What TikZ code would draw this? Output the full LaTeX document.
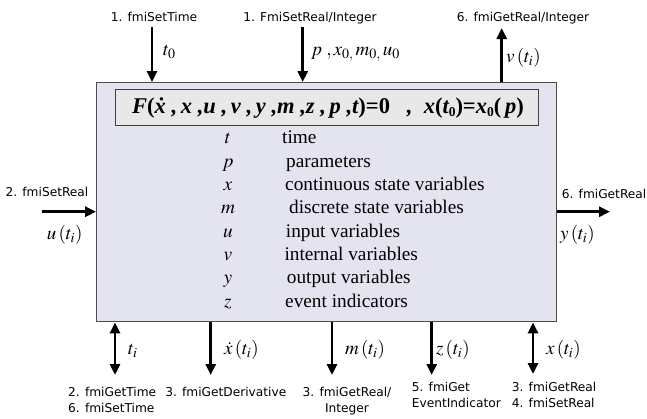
\documentclass[tikz,border=0pt]{standalone}
\usepackage{mathptmx}
\usepackage[no-math]{fontspec}
\setmainfont{Liberation Serif}
\newfontfamily\lblfont{DejaVu Sans}
\usetikzlibrary{arrows.meta}

\definecolor{boxfill}{RGB}{228,228,240}
\definecolor{eqfill}{RGB}{232,232,232}

\newcommand\upr[1]{{\upshape #1}}
\newcommand\zsub{\raisebox{-0.3ex}{\fontsize{13.5}{13.5}\selectfont\upshape 0}}

\tikzset{
  fmubox/.style={draw=black!70, line width=1.3pt, fill=boxfill,
    minimum width=460pt, minimum height=239pt, inner sep=0pt},
  eqbox/.style={draw=black!75, line width=1pt, fill=eqfill,
    minimum width=423pt, minimum height=36.7pt, inner sep=0pt},
  fmilbl/.style={font=\lblfont\fontsize{12.2}{14}\selectfont, inner sep=0pt},
  sigl/.style={font=\fontsize{19}{21}\selectfont, inner sep=0pt, anchor=mid west},
  varsym/.style={font=\fontsize{19.3}{23}\selectfont, inner sep=0pt, anchor=mid},
  vartxt/.style={font=\fontsize{19.3}{23}\selectfont, inner sep=0pt, anchor=mid west},
  sig/.style={line width=2.8pt, -{Triangle[length=11pt,width=10pt]}},
  bisig/.style={line width=2.8pt,
    {Triangle[length=11pt,width=10pt]}-{Triangle[length=11pt,width=10pt]}},
}

\begin{document}
\begin{tikzpicture}[x=1pt,y=-1pt]
  \useasboundingbox (0,0) rectangle (647,418);

  % FMU block and model equation
  \node[fmubox] (fmu) at (326.7,202.2) {};
  \node[eqbox] (eq) at (326.5,107.6) {};
  \node[inner sep=0pt] (eqtxt) at (328,107.6)
    {\fontsize{22.5}{25}\selectfont\bfseries\itshape
     F\upr{(}\.x\ ,\,x\ ,u\ ,\,v\ ,\,y\ ,m\ ,z\ ,\,p\ ,t\upr{)=0}\ \ \ ,\ \
     x\upr{(}t\zsub\upr{)=}x\zsub\upr{(}\,p\upr{)}};

  % list of variables
  \foreach \sym/\txt/\tx [count=\i] in {t/time/282, p/parameters/286,
      x/continuous state variables/285, m/discrete state variables/289,
      u/input variables/285.7, v/internal variables/284.3,
      y/output variables/286.7, z/event indicators/285}
  {
    \node[varsym] (sym\i) at (228,{141.7+23.3*(\i-1)}) {$\sym$};
    \node[vartxt] (txt\i) at (\tx,{141.7+23.3*(\i-1)}) {\txt};
  }

  % inputs from above
  \node[fmilbl, anchor=base] (setTime) at (154,21) {1. fmiSetTime};
  \node[fmilbl, anchor=base] (setRealP) at (310,21) {1. FmiSetReal/Integer};
  \node[fmilbl, anchor=base] (getRealV) at (523,21) {6. fmiGetReal/Integer};
  \coordinate (t0in) at (152,27);
  \coordinate (pin) at (302.7,27);
  \coordinate (vout) at (501.7,28);
  \draw[sig] (t0in) -- (t0in |- fmu.north);
  \draw[sig] (pin) -- (pin |- fmu.north);
  \draw[sig] (vout |- fmu.north) -- (vout);
  \node[sigl] (t0l) at (163,53) {$t_0$};
  \node[sigl] (pl) at (311,53) {$p\;,x_{0,}\,m_{0,}\,u_0$};
  \node[sigl] (vl) at (506,60) {$v\,(t_i)$};

  % left and right
  \node[fmilbl, anchor=base] (setRealU) at (47,196) {2. fmiSetReal};
  \node[fmilbl, anchor=base west] (getRealY) at (561.7,198) {6. fmiGetReal};
  \coordinate (uin) at (41.7,211.7);
  \coordinate (yout) at (610,211.7);
  \draw[sig] (uin) -- (uin -| fmu.west);
  \draw[sig] (yout -| fmu.east) -- (yout);
  \node[sigl] (ul) at (46.7,237) {$u\,(t_i)$};
  \node[sigl] (yl) at (560,237) {$y\,(t_i)$};

  % outputs below
  \coordinate (tiend) at (115,375);
  \coordinate (xdend) at (210.7,375);
  \coordinate (mend) at (332,375);
  \coordinate (zend) at (431.7,375);
  \coordinate (xend) at (533,374);
  \draw[bisig] (tiend |- fmu.south) -- (tiend);
  \draw[sig] (xdend |- fmu.south) -- (xdend);
  \draw[sig] (mend |- fmu.south) -- (mend);
  \draw[sig] (zend |- fmu.south) -- (zend);
  \draw[bisig] (xend |- fmu.south) -- (xend);
  \node[sigl] (til) at (128,352) {$t_i$};
  \node[sigl] (xdl) at (224,352) {$\dot{x}\,(t_i)$};
  \node[sigl] (ml) at (345,352) {$m\,(t_i)$};
  \node[sigl] (zl) at (436,352) {$z\,(t_i)$};
  \node[sigl] (xl) at (546,352) {$x\,(t_i)$};

  \node[fmilbl, anchor=base west] (getTime) at (68,396) {2. fmiGetTime};
  \node[fmilbl, anchor=base west] (setTimeB) at (68,412) {6. fmiSetTime};
  \node[fmilbl, anchor=base] (getDer) at (225.8,396) {3. fmiGetDerivative};
  \node[fmilbl, anchor=base] (getRealM) at (347,396) {3. fmiGetReal/};
  \node[fmilbl, anchor=base] (getRealM2) at (347,412) {Integer};
  \node[fmilbl, anchor=base west] (getEv) at (411.7,391) {5. fmiGet};
  \node[fmilbl, anchor=base west] (getEv2) at (411.7,407) {EventIndicator};
  \node[fmilbl, anchor=base west] (getRealX) at (511.7,391) {3. fmiGetReal};
  \node[fmilbl, anchor=base west] (setRealX) at (511.7,407) {4. fmiSetReal};
\end{tikzpicture}
\end{document}
